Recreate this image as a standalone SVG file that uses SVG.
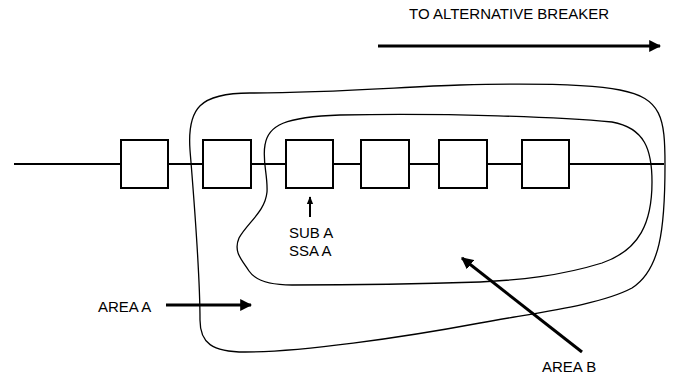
<svg xmlns="http://www.w3.org/2000/svg" width="673" height="378" viewBox="0 0 673 378">
<style>
.t{font-family:"Liberation Sans",Arial,sans-serif;font-size:15px;fill:#000}
.box{fill:#fff;stroke:#000;stroke-width:2}
.ln{stroke:#000;stroke-width:2;fill:none}
.cv{stroke:#000;stroke-width:1.3;fill:none}
.ar{stroke:#000;stroke-width:3;fill:none}
</style>
<defs>
<marker id="ah" viewBox="0 0 10 10" refX="9" refY="5" markerWidth="4" markerHeight="4" orient="auto" markerUnits="strokeWidth">
<path d="M0,0 L10,5 L0,10 Z" fill="#000"/>
</marker>
<marker id="ahs" viewBox="0 0 10 10" refX="9" refY="5" markerWidth="4" markerHeight="4" orient="auto" markerUnits="strokeWidth">
<path d="M0,1 L10,5 L0,9 Z" fill="#000"/>
</marker>
</defs>
<g id="connectors">
<line class="ln" x1="14" y1="164" x2="664" y2="164"/>
<line class="ar" x1="378" y1="46" x2="660" y2="46" marker-end="url(#ah)"/>
<line class="ar" x1="166" y1="305" x2="251" y2="305" marker-end="url(#ah)"/>
<line class="ar" x1="582" y1="352" x2="462" y2="258" marker-end="url(#ah)"/>
<line class="ln" x1="310" y1="217" x2="310" y2="197" marker-end="url(#ahs)"/>
</g>
<g id="area-a">
<path class="cv" d="M190,150 C187,108 200,93 250,93 C330,93 400,87 460,85 C540,83 590,84 620,90 C662,98 665,118 665,165 C665,230 660,270 632,288 C600,305 540,312 480,323 C400,338 300,352 245,352 C212,352 200,343 200,320 C200,270 194,200 190,150 Z"/>
</g>
<g id="area-b">
<path class="cv" d="M340,115 C450,113 560,117 612,122 C645,128 652,150 652,182 C652,222 640,250 602,263 C560,276 520,280 480,282 C420,284 340,285 292,285 C268,285 255,280 249,271 C242,260 233,252 239,238 C248,222 265,212 267,192 C268,176 262,160 265,145 C268,125 285,117 340,115 Z"/>
</g>
<g id="breakers">
<rect class="box" x="121" y="140" width="47" height="48"/>
<rect class="box" x="203" y="140" width="48" height="48"/>
<rect class="box" x="286" y="140" width="47" height="48"/>
<rect class="box" x="361" y="140" width="48" height="48"/>
<rect class="box" x="439" y="140" width="48" height="48"/>
<rect class="box" x="522" y="140" width="47" height="48"/>
</g>
<g id="labels">
<text class="t" x="409" y="19">TO ALTERNATIVE BREAKER</text>
<text class="t" x="289" y="238">SUB A</text>
<text class="t" x="289" y="256">SSA A</text>
<text class="t" x="98" y="312">AREA A</text>
<text class="t" x="542" y="372">AREA B</text>
</g>
</svg>
